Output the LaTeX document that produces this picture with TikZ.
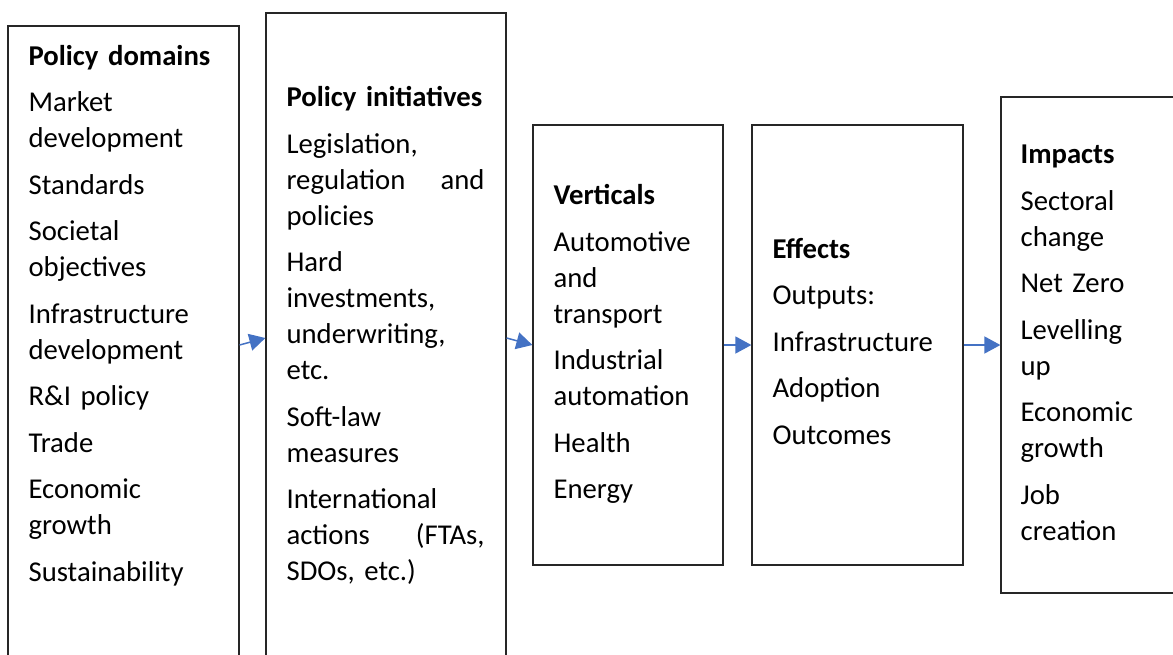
\documentclass[tikz,border=0pt]{standalone}
\usepackage{fontspec}
\setmainfont{Carlito}
\usetikzlibrary{arrows.meta, positioning}
\definecolor{linkblue}{HTML}{4472C4}

\begin{document}
\begin{tikzpicture}[x=1pt,y=-1pt,>={Triangle[length=16pt,width=17pt]},
    box/.style={rectangle, draw=black!85, line width=1.2pt, inner sep=0pt},
    txt/.style={anchor=base west, align=left, inner sep=0pt, text width=198pt,
        font=\fontsize{28.7}{36}\selectfont},
    link/.style={->, draw=linkblue, line width=1.5pt}]
    \useasboundingbox (0,0) rectangle (1173,654);
    % boxes
    \node[box, minimum width=231pt, minimum height=638pt] (domains) at (123.5,345) {};
    \node[box, minimum width=240pt, minimum height=650pt] (initiatives) at (386,338) {};
    \node[box, minimum width=190pt, minimum height=440pt] (verticals) at (628,345) {};
    \node[box, minimum width=211pt, minimum height=440pt] (effects) at (857.5,345) {};
    \node[box, minimum width=190pt, minimum height=496pt] (impacts) at (1096,345) {};
    % texts
    \node[txt] (domainstxt) at ([shift={(21,40)}]domains.north west) {\textbf{Policy domains}\\[10.5pt]
        Market\\development\\[10.5pt]
        Standards\\[10.5pt]
        Societal\\objectives\\[10.5pt]
        Infrastructure\\development\\[10.5pt]
        R\&I policy\\[10.5pt]
        Trade\\[10.5pt]
        Economic\\growth\\[10.5pt]
        Sustainability};
    \node[txt] (initiativestxt) at ([shift={(21,94.5)}]initiatives.north west) {\textbf{Policy initiatives}\\[10.5pt]
        Legislation,\\\leavevmode\hbox to\linewidth{regulation\hfill and}\\policies\\[10.5pt]
        Hard\\investments,\\underwriting,\\etc.\\[10.5pt]
        Soft-law\\measures\\[10.5pt]
        International\\\leavevmode\hbox to\linewidth{actions\hfill(FTAs,}\\SDOs, etc.)};
    \node[txt] (verticalstxt) at ([shift={(21,80.5)}]verticals.north west) {\textbf{Verticals}\\[10.5pt]
        Automotive\\and\\transport\\[10.5pt]
        Industrial\\automation\\[10.5pt]
        Health\\[10.5pt]
        Energy};
    \node[txt] (effectstxt) at ([shift={(21,134)}]effects.north west) {\textbf{Effects}\\[10.5pt]
        Outputs:\\[10.5pt]
        Infrastructure\\[10.5pt]
        Adoption\\[10.5pt]
        Outcomes};
    \node[txt] (impactstxt) at ([shift={(20,67.5)}]impacts.north west) {\textbf{Impacts}\\[10.5pt]
        Sectoral\\change\\[10.5pt]
        Net Zero\\[10.5pt]
        Levelling\\up\\[10.5pt]
        Economic\\growth\\[10.5pt]
        Job\\creation};
    % connectors
    \path (domains.east) edge[link] (initiatives.west)
          (initiatives.east) edge[link] (verticals.west)
          (verticals.east) edge[link] (effects.west)
          (effects.east) edge[link] (impacts.west);
\end{tikzpicture}
\end{document}
